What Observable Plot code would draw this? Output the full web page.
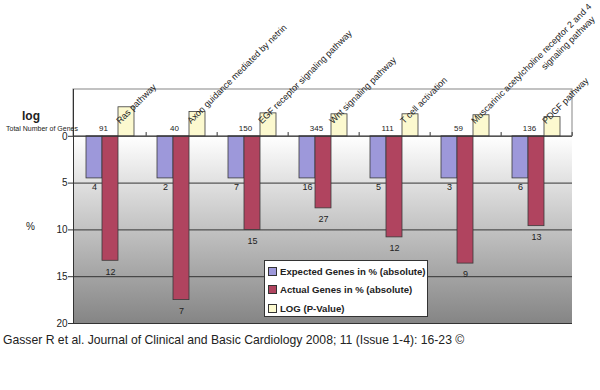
<!DOCTYPE html>
<html><head><meta charset="utf-8">
<script src="https://cdn.jsdelivr.net/npm/d3@7"></script>
<script src="https://cdn.jsdelivr.net/npm/@observablehq/plot@0.6"></script>
<style>
body{margin:0;background:#fff;font-family:"Liberation Sans",Arial,sans-serif;}
#wrap{position:relative;width:600px;}
#chart svg{display:block;}
#caption{font-size:12.2px;line-height:14px;color:#222;margin:5px 0 0 3px;white-space:nowrap;}
#legend{position:absolute;left:264px;top:260px;width:164px;height:57px;border:1px solid #333;background:#fff;box-sizing:border-box;padding:1px 0 0 3px;}
.row{display:flex;align-items:center;height:18.5px;font-size:9.6px;font-weight:bold;color:#222;white-space:nowrap;}
.sw{width:7px;height:7px;border:1px solid #333;margin-right:3px;flex:none;}
</style></head><body>
<div id="wrap"><div id="chart"></div><div id="legend"></div><div id="caption"></div></div>
<script>
// ---- data ----
const categories = ["Ras pathway", "Axon guidance mediated by netrin", "EGF receptor signaling pathway", "Wnt signaling pathway", "T cell activation", "Muscarinic acetylcholine receptor 2 and 4 signaling pathway", "PDGF pathway"];
const labelLine1 = ["Ras pathway", "Axon guidance mediated by netrin", "EGF receptor signaling pathway", "Wnt signaling pathway", "T cell activation", "Muscarinic acetylcholine receptor 2 and 4", "PDGF pathway"];
const labelLine2 = ["", "", "", "", "", "signaling pathway", ""];
const series = ["Expected Genes in % (absolute)", "Actual Genes in % (absolute)", "LOG (P-Value)"];
const seriesColors = ["#9d98da", "#b0445f", "#fcf9cf"];
const expectedPct = [4.5, 4.5, 4.5, 4.5, 4.5, 4.5, 4.5];
const actualPct = [13.3, 17.5, 10.0, 7.7, 10.8, 13.6, 9.6];
const logPValue = [3.1, 2.6, 2.45, 2.35, 2.35, 2.25, 2.05];
const expectedCounts = [4, 2, 7, 16, 5, 3, 6];
const actualCounts = [12, 7, 15, 27, 12, 9, 13];
const totalGenes = [91, 40, 150, 345, 111, 59, 136];
const yTicks = [0, 5, 10, 15, 20];
const logPanelDepth = 5;
const captionText = "Gasser R et al. Journal of Clinical and Basic Cardiology 2008; 11 (Issue 1-4): 16-23 ©";

// ---- layout constants ----
const W = 600, H = 328, mL = 73, mR = 28, mT = 89, mB = 5;
const step = (W - mL - mR) / categories.length;
const barW = 16;                       // width of one bar in a group
const padIn = 1 - barW / step;

// ---- tables ----
const rows = categories.map((c, i) => ({
  cat: c, l1: labelLine1[i], l2: labelLine2[i],
  exp: expectedPct[i], act: actualPct[i], log: -logPValue[i],
  expN: expectedCounts[i], actN: actualCounts[i], total: totalGenes[i]
}));
const yMax = d3.max(yTicks);
const lowerPanel = [{y1: 0, y2: yMax}];
const upperPanel = [{y1: -logPanelDepth, y2: 0}];
const ink = "#222";
const barStyle = {stroke: "#3a3a3a", strokeWidth: 0.8};

const svg = Plot.plot({
  width: W, height: H,
  marginLeft: mL, marginRight: mR, marginTop: mT, marginBottom: mB,
  style: {fontFamily: "'Liberation Sans', Arial, sans-serif", color: ink, background: "transparent", overflow: "visible"},
  x: {domain: categories, axis: null, paddingInner: padIn, paddingOuter: padIn / 2},
  y: {domain: [-logPanelDepth, yMax], reverse: true, axis: null},
  color: {domain: series, range: seriesColors},
  marks: [
    Plot.rect(lowerPanel, {y1: "y1", y2: "y2", fill: "url(#bgGrad)"}),
    Plot.rect(upperPanel, {y1: "y1", y2: "y2", fill: "white", stroke: "#858585"}),
    Plot.ruleY(yTicks.filter(t => t > 0), {stroke: "#333", strokeWidth: 1}),
    Plot.barY(rows, {x: "cat", y: "exp", fill: () => series[0], dx: -barW, ...barStyle}),
    Plot.barY(rows, {x: "cat", y: "act", fill: () => series[1], ...barStyle}),
    Plot.barY(rows, {x: "cat", y: "log", fill: () => series[2], dx: barW, ...barStyle}),
    Plot.ruleY([0], {stroke: "#333"}),
    Plot.ruleX(rows, {x: "cat", y1: 0, y2: -0.4, dx: step / 2, stroke: "#333"}),
    Plot.frame({anchor: "left", stroke: "#333"}),
    Plot.axisY(yTicks, {tickSize: 5, tickPadding: 1, fontSize: 10, stroke: "#333", fill: ink, label: null}),
    // category labels
    Plot.text(rows, {x: "cat", y: 0, text: "l1", rotate: -45, textAnchor: "start", dx: barW - 8.6, dy: -14, fontSize: 9, fill: ink}),
    Plot.text(rows.filter(r => r.l2), {x: "cat", y: 0, text: "l2", rotate: -45, textAnchor: "start", dx: barW + 61.4, dy: -68, fontSize: 9, fill: ink}),
    // value labels
    Plot.text(rows, {x: "cat", y: 0, text: "total", dx: -7, dy: -8, fontSize: 8, fill: ink}),
    Plot.text(rows, {x: "cat", y: "exp", text: "expN", dx: -barW, dy: 9, fontSize: 9, fill: ink}),
    Plot.text(rows, {x: "cat", y: "act", text: "actN", dy: 11, fontSize: 9, fill: ink}),
    // side labels
    Plot.text(["log"], {frameAnchor: "left", textAnchor: "middle", y: () => -2.14, dx: -42.5, text: d => d, fontWeight: "bold", fontSize: 12, fill: ink}),
    Plot.text(["Total Number of Genes"], {frameAnchor: "left", textAnchor: "middle", y: () => -0.85, dx: -31.5, text: d => d, fontSize: 7, fill: ink}),
    Plot.text(["%"], {frameAnchor: "left", textAnchor: "middle", y: () => 9.7, dx: -43, text: d => d, fontSize: 10, fill: ink})
  ]
});

// gradient definition for the lower panel background
const defs = d3.select(svg).insert("defs", ":first-child");
const grad = defs.append("linearGradient").attr("id", "bgGrad").attr("x1", 0).attr("y1", 0).attr("x2", 0).attr("y2", 1);
grad.append("stop").attr("offset", "0%").attr("stop-color", "#ffffff");
grad.append("stop").attr("offset", "100%").attr("stop-color", "#858585");

document.getElementById("chart").appendChild(svg);

const legend = d3.select("#legend");
series.forEach((s, i) => {
  const row = legend.append("div").attr("class", "row");
  row.append("div").attr("class", "sw").style("background", seriesColors[i]);
  row.append("span").text(s);
});
document.getElementById("caption").textContent = captionText;
</script>
</body></html>
